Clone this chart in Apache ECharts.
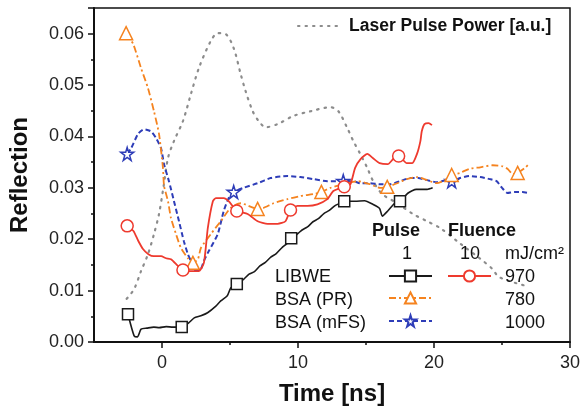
<!DOCTYPE html>
<html>
<head>
<meta charset="utf-8">
<script src="https://cdn.jsdelivr.net/npm/echarts@6/dist/echarts.min.js"></script>
<style>
  html, body { margin: 0; padding: 0; background: #fff; }
  #chart { width: 585px; height: 414px; }
</style>
</head>
<body>
<div id="chart"></div>
<script>
// [time ns, reflection]
var laserPower = [[-2.6,0.0084],[-2.05,0.0103],[-1.54,0.0138],[-1.03,0.0171],[-0.59,0.021],[-0.22,0.0249],[0.1,0.03],[0.44,0.0358],[0.88,0.0391],[1.54,0.043],[2.12,0.0482],[2.71,0.0533],[3.59,0.0586],[4.1,0.0601],[4.69,0.0599],[5.27,0.0572],[5.79,0.0521],[6.15,0.0488],[6.67,0.0449],[7.11,0.043],[7.62,0.0418],[8.5,0.0424],[9.67,0.044],[10.92,0.0449],[12.38,0.0457],[12.97,0.0449],[13.63,0.0416],[14.07,0.0391],[14.58,0.0366],[15.09,0.0339],[15.53,0.0313],[16.19,0.0288],[17.3,0.027],[18.46,0.0249],[19.49,0.0235],[20.44,0.0222],[22,0.019],[23.4,0.0162],[24.3,0.0142],[24.8,0.0126],[26.8,0.0109]]

var libwe1 = [[-2.5,0.0054],[-2.05,0.0012],[-1.8,0.001],[-1.54,0.0025],[-1.1,0.0027],[-0.6,0.0029],[-0.2,0.0028],[0.3,0.003],[0.8,0.0029],[1.45,0.0029],[2.0,0.0038],[2.37,0.0047],[2.86,0.0051],[3.35,0.0057],[3.96,0.007],[4.32,0.008],[4.8,0.009],[5.05,0.0105],[5.5,0.0113],[6.0,0.0122],[6.4,0.0132],[6.8,0.0137],[7.2,0.0148],[7.6,0.0155],[8.0,0.0165],[8.4,0.0172],[8.8,0.0183],[9.2,0.0192],[9.5,0.0202],[9.9,0.0209],[10.3,0.0218],[10.7,0.0224],[11.1,0.0234],[11.5,0.024],[11.9,0.025],[12.3,0.0256],[12.7,0.0265],[13.0,0.0269],[13.4,0.0274],[14.2,0.0274],[14.9,0.0275],[15.5,0.0268],[16.0,0.026],[16.2,0.0245],[16.6,0.0255],[17.1,0.027],[17.5,0.0274],[18.1,0.029],[18.7,0.0297],[19.5,0.0297],[19.9,0.030]]
var libwe1Marks = [-2.5, 1.45, 5.5, 9.5, 13.4, 17.5]

var libwe10 = [[-2.56,0.0226],[-2.1,0.0216],[-1.75,0.0197],[-1.4,0.0181],[-1.0,0.0171],[-0.6,0.0167],[-0.07,0.0167],[0.3,0.0163],[0.66,0.0161],[1.17,0.0148],[1.54,0.014],[2.27,0.0138],[2.7,0.0138],[3.08,0.0154],[3.37,0.0222],[3.74,0.0274],[3.96,0.028],[4.54,0.028],[4.9,0.0274],[5.5,0.0255],[6.3,0.0249],[7.03,0.0235],[7.77,0.023],[8.5,0.023],[9.08,0.0235],[9.45,0.0257],[9.96,0.0265],[10.7,0.0265],[11.43,0.0268],[12.16,0.0278],[12.6,0.0294],[13.4,0.0302],[13.85,0.0307],[14.2,0.0339],[14.6,0.0356],[15.1,0.0366],[15.5,0.0358],[16.0,0.0348],[16.6,0.0346],[17.0,0.0356],[17.4,0.0362],[18.0,0.0348],[18.4,0.0348],[18.75,0.0366],[19.0,0.0391],[19.1,0.041],[19.3,0.0424],[19.6,0.0426],[19.85,0.0422]]
var libwe10Marks = [-2.56, 1.54, 5.5, 9.45, 13.4, 17.4]

var bsaPR = [[-2.64,0.0601],[-2.12,0.058],[-1.54,0.0533],[-1.03,0.0494],[-0.59,0.0449],[-0.22,0.0405],[0.07,0.0339],[0.15,0.0304],[0.44,0.0274],[0.66,0.0241],[1.03,0.021],[1.39,0.0183],[1.9,0.0163],[2.27,0.0154],[2.64,0.0161],[2.86,0.0183],[3.59,0.021],[4.32,0.0235],[5.05,0.0261],[5.79,0.027],[7.03,0.0259],[7.47,0.0261],[8.2,0.027],[9.23,0.0278],[10.18,0.0284],[11.14,0.0288],[11.72,0.0292],[12.38,0.03],[13.33,0.0307],[14.43,0.0313],[15.3,0.0307],[16.04,0.03],[16.56,0.0302],[17.3,0.0309],[18.0,0.0317],[18.75,0.0321],[19.5,0.0315],[20.2,0.0309],[20.95,0.0317],[21.3,0.0325],[21.9,0.0329],[22.6,0.0337],[23.4,0.034],[24.3,0.0344],[25.05,0.0342],[25.4,0.0337],[25.8,0.0327],[26.15,0.0329],[26.7,0.0339],[26.96,0.0346]]
var bsaPRMarks = [-2.64, 2.27, 7.03, 11.72, 16.56, 21.3, 26.15]

var bsaMFS = [[-2.56,0.0366],[-2.27,0.0377],[-1.76,0.0405],[-1.32,0.0414],[-0.81,0.041],[-0.44,0.0397],[-0.07,0.0377],[0.15,0.0346],[0.51,0.0313],[0.88,0.0274],[1.25,0.0235],[1.61,0.0196],[1.9,0.0171],[2.12,0.0158],[2.49,0.0138],[2.86,0.0142],[3.08,0.0158],[3.44,0.0177],[4.1,0.021],[4.54,0.0255],[4.9,0.028],[5.27,0.0292],[6.0,0.03],[7.03,0.0309],[7.99,0.0319],[9.23,0.0323],[10.18,0.0321],[11.14,0.0317],[12.16,0.0313],[13.33,0.0313],[14.07,0.0313],[14.58,0.0309],[15.3,0.0309],[16.04,0.0307],[16.78,0.0307],[17.5,0.0313],[18.24,0.0319],[18.83,0.0319],[19.5,0.0315],[20.2,0.0311],[20.95,0.0315],[21.3,0.0313],[21.9,0.0319],[22.6,0.0323],[23.4,0.0321],[24.1,0.0317],[24.6,0.0313],[25.0,0.03],[25.4,0.029],[25.9,0.0292],[26.5,0.0292],[26.96,0.029]]
var bsaMFSMarks = [-2.56, 5.27, 13.33, 21.3]

var xLabels = [0, 10, 20, 30]
var xMinor = [5, 15, 25]

var FONT = '"Liberation Sans", Arial, sans-serif'
var STAR = 'path://M50,2 L61,37 L98,37 L68,59 L79,95 L50,73 L21,95 L32,59 L2,37 L39,37 Z'

// only a few points carry a marker
function withMarks(points, marks) {
  return points.map(function (p) {
    return marks.indexOf(p[0]) >= 0 ? { value: p } : { value: p, symbol: 'none' }
  })
}

function iconLegend(name, left, top) {
  return {
    data: [name], left: left, top: top, padding: 0,
    itemWidth: 43, itemHeight: 14, selectedMode: false,
    formatter: function () { return '' },
    textStyle: { fontSize: 1 }
  }
}

function label(text, x, y, opts) {
  opts = opts || {}
  return {
    type: 'text', x: x, y: y, z: 100,
    style: {
      text: text, fill: '#111',
      font: (opts.bold ? 'bold ' : '') + (opts.size || 18) + 'px ' + FONT,
      align: opts.align || 'left', verticalAlign: 'middle'
    }
  }
}

var chart = echarts.init(document.getElementById('chart'))
chart.setOption({
  animation: false,
  textStyle: { fontFamily: FONT },
  grid: { left: 92, right: 15, top: 8, bottom: 72, show: true, borderColor: '#111', borderWidth: 1.5 },
  xAxis: [
    {
      type: 'value', min: -5, max: 30, interval: 5,
      name: 'Time [ns]', nameLocation: 'middle', nameGap: 40,
      nameTextStyle: { fontSize: 24, fontWeight: 'bold', color: '#111' },
      axisLine: { onZero: false, lineStyle: { color: '#111', width: 2 } },
      axisTick: { length: 6, lineStyle: { color: '#111', width: 1.5 }, customValues: xLabels },
      axisLabel: { fontSize: 18, color: '#222', margin: 12, customValues: xLabels },
      splitLine: { show: false }
    },
    {
      type: 'value', min: -5, max: 30, position: 'bottom',
      axisLine: { show: false, onZero: false },
      axisTick: { length: 3, lineStyle: { color: '#111', width: 1.5 }, customValues: xMinor },
      axisLabel: { show: false },
      splitLine: { show: false }
    }
  ],
  yAxis: {
    type: 'value', min: 0, max: 0.065, interval: 0.01,
    name: 'Reflection', nameLocation: 'middle', nameGap: 62,
    nameTextStyle: { fontSize: 24, fontWeight: 'bold', color: '#111' },
    axisLine: { show: true, onZero: false, lineStyle: { color: '#111', width: 2 } },
    axisTick: { length: 6, lineStyle: { color: '#111', width: 1.5 } },
    minorTick: { show: true, splitNumber: 2, length: 3, lineStyle: { color: '#111', width: 1.5 } },
    axisLabel: {
      fontSize: 18, color: '#222', margin: 10,
      formatter: function (v) { return v > 0.0605 ? '' : v.toFixed(2) }
    },
    splitLine: { show: false }
  },
  legend: [
    {
      data: ['Laser Pulse Power'], left: 297, top: 17, padding: 0,
      itemWidth: 42, itemHeight: 14, selectedMode: false,
      itemStyle: { opacity: 0 },
      formatter: 'Laser Pulse Power [a.u.]',
      textStyle: { fontSize: 17.5, fontWeight: 'bold', color: '#111', padding: [0, 0, 0, 4] }
    },
    iconLegend('LIBWE 1 pulse', 388, 269),
    iconLegend('LIBWE 10 pulses', 447, 269),
    iconLegend('BSA (PR)', 388, 291),
    iconLegend('BSA (mFS)', 388, 314)
  ],
  graphic: [
    label('Pulse', 372, 231, { bold: true }),
    label('Fluence', 448, 231, { bold: true }),
    label('1', 407, 254, { align: 'center' }),
    label('10', 470, 254, { align: 'center' }),
    label('mJ/cm²', 505, 254),
    label('LIBWE', 275, 277),
    label('BSA (PR)', 275, 300),
    label('BSA (mFS)', 275, 323),
    label('970', 505, 277),
    label('780', 505, 300),
    label('1000', 505, 323)
  ],
  series: [
    {
      name: 'Laser Pulse Power', type: 'line', data: laserPower, z: 1,
      symbol: 'none', smooth: 0.3,
      lineStyle: { color: '#8c8c8c', width: 2.2, type: [1.5, 6], cap: 'round' },
      itemStyle: { color: '#8c8c8c' }
    },
    {
      name: 'BSA (mFS)', type: 'line', data: withMarks(bsaMFS, bsaMFSMarks), z: 2,
      symbol: STAR, symbolSize: 13, showAllSymbol: true, smooth: 0.2,
      lineStyle: { color: '#2e3db8', width: 2, type: [5, 3] },
      itemStyle: { color: '#fff', borderColor: '#2e3db8', borderWidth: 1.5 }
    },
    {
      name: 'BSA (PR)', type: 'line', data: withMarks(bsaPR, bsaPRMarks), z: 3,
      symbol: 'triangle', symbolSize: 13, showAllSymbol: true, smooth: 0.2,
      lineStyle: { color: '#f5831f', width: 1.8, type: [7, 3, 2, 3] },
      itemStyle: { color: '#fff', borderColor: '#f5831f', borderWidth: 1.5 }
    },
    {
      name: 'LIBWE 10 pulses', type: 'line', data: withMarks(libwe10, libwe10Marks), z: 4,
      symbol: 'circle', symbolSize: 12, showAllSymbol: true, smooth: 0.2,
      lineStyle: { color: '#ee3a2e', width: 1.8 },
      itemStyle: { color: '#fff', borderColor: '#ee3a2e', borderWidth: 1.5 }
    },
    {
      name: 'LIBWE 1 pulse', type: 'line', data: withMarks(libwe1, libwe1Marks), z: 5,
      symbol: 'rect', symbolSize: 11, showAllSymbol: true, smooth: 0.2,
      lineStyle: { color: '#1a1a1a', width: 1.6 },
      itemStyle: { color: '#fff', borderColor: '#1a1a1a', borderWidth: 1.5 }
    }
  ]
})
</script>
</body>
</html>
